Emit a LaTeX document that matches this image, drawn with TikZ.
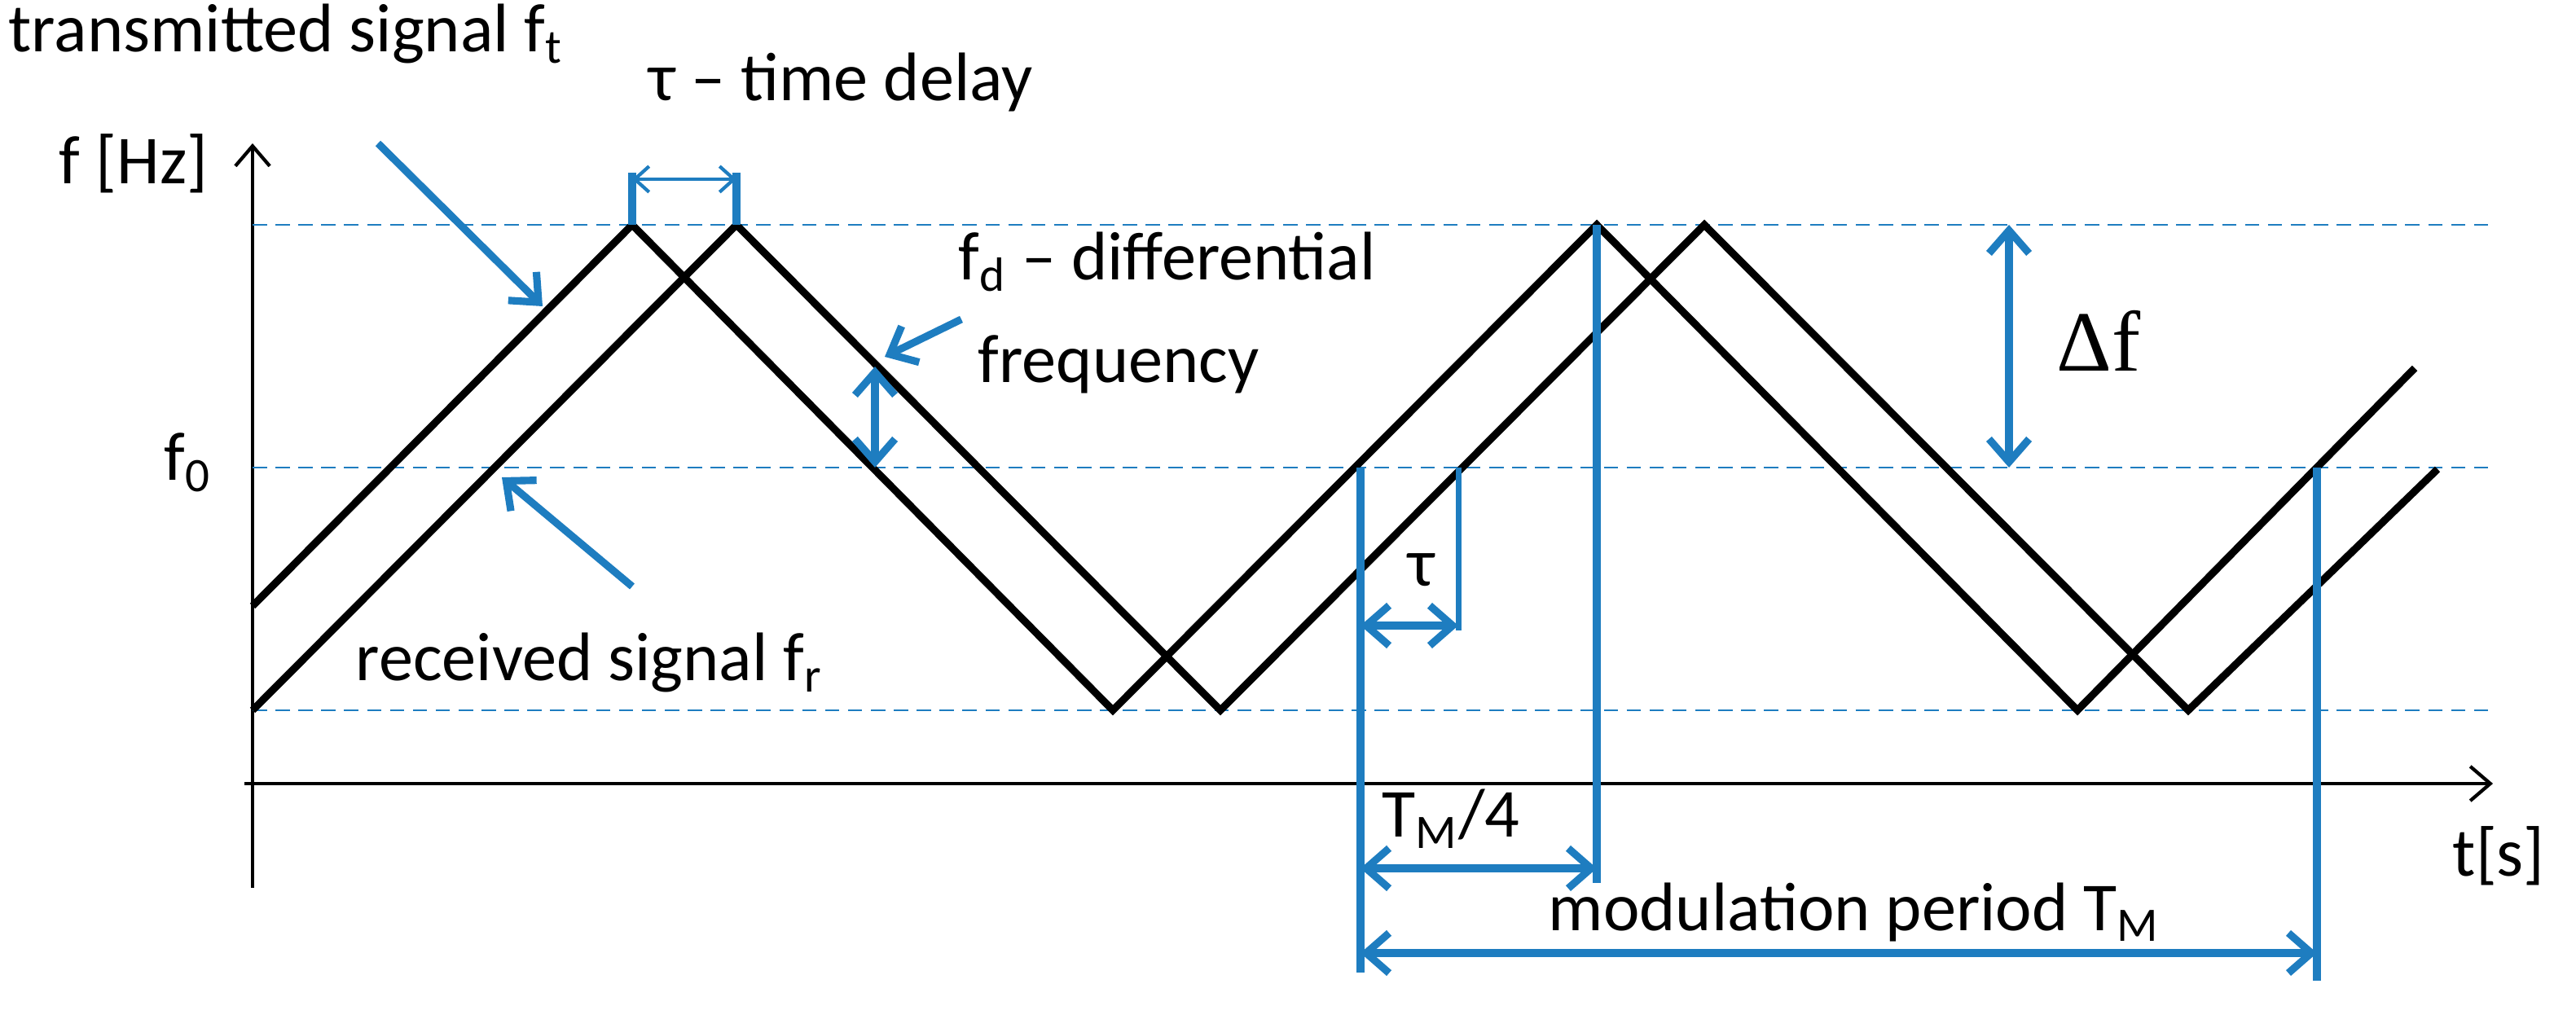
\documentclass[tikz,border=0pt]{standalone}
\usepackage{fontspec}
\setmainfont{Carlito}
\usetikzlibrary{arrows.meta}
\definecolor{mblue}{RGB}{30,125,192}
\tikzset{
  sig/.style={line width=2.6pt,black},
  guide/.style={mblue,line width=0.8pt,dash pattern=on 5pt off 3pt},
  tick/.style={mblue,line width=3pt},
  dim/.style={mblue,line width=2.6pt,{Straight Barb[length=8pt,width=14pt]}-{Straight Barb[length=8pt,width=14pt]}},
  pointer/.style={mblue,line width=2.6pt,-{Straight Barb[length=8pt,width=14pt]}},
  lbl/.style={font=\fontsize{24}{28}\selectfont,inner sep=0pt}
}
\begin{document}
\begin{tikzpicture}[x=0.02cm,y=-0.02cm]
  \useasboundingbox (0,0) rectangle (1581,625.5);
  % axes
  \draw[line width=1.2pt,-{Straight Barb[length=7pt,width=12pt]}] (155,545) -- (155,88);
  \draw[line width=1.2pt,-{Straight Barb[length=7pt,width=12pt]}] (150,481) -- (1530,481);
  % guide lines
  \draw[guide] (155,138) -- (1530,138);
  \draw[guide] (155,287) -- (1530,287);
  \draw[guide] (155,436) -- (1530,436);
  % signals
  \draw[sig] (155,372) -- (388,138) -- (683,436) -- (980,138) -- (1275,436) -- (1482,226);
  \draw[sig] (155,436) -- (452,138) -- (749,436) -- (1046,138) -- (1343,436) -- (1496,288);
  % time delay
  \coordinate (d1) at (388,138);
  \coordinate (d2) at (452,138);
  \draw[tick] (388,106) -- (d1);
  \draw[tick] (452,106) -- (d2);
  \draw[mblue,line width=1.2pt,{Straight Barb[length=5pt,width=9pt]}-{Straight Barb[length=5pt,width=9pt]}] (388,110) -- (452,110);
  \node[lbl,anchor=base west] (tdl) at (398,62) {τ – time delay};
  % labels
  \node[lbl,anchor=base west] (tx) at (5,32) {transmitted signal f\textsubscript{t}};
  \node[lbl,anchor=base west] (rx) at (218,418) {received signal f\textsubscript{r}};
  \node[lbl,anchor=base east] (fhz) at (128,113) {f [Hz]};
  \node[lbl,anchor=base east] (f0) at (130,295) {f\textsubscript{0}};
  \node[lbl,anchor=base west] (ts) at (1505,538) {t[s]};
  \coordinate (txa) at (333,188);
  \coordinate (rxa) at (308,293);
  \draw[pointer] (232,88) -- (txa);
  \draw[pointer] (388,360) -- (rxa);
  % differential frequency
  \node[lbl,anchor=base west] (fd) at (588,172) {f\textsubscript{d} – differential};
  \node[lbl,anchor=base west] (fq) at (600,235) {frequency};
  \coordinate (fda) at (543,219);
  \draw[pointer] (590,196) -- (fda);
  \draw[dim] (537,225) -- (537,287);
  % delta f
  \draw[dim] (1233,138) -- (1233,287);
  \node[font=\fontsize{30}{34}\selectfont,inner sep=0pt,anchor=base west] (df) at (1262,228) {\fontspec{Liberation Serif}Δf};
  % periods
  \draw[tick] (835,287) -- (835,597);
  \draw[tick] (980,138) -- (980,542);
  \draw[tick] (1422,287) -- (1422,602);
  \draw[mblue,line width=2pt] (895,287) -- (895,387);
  \draw[dim] (835,384) -- (895,384);
  \node[lbl,anchor=base west] (tau) at (864,360) {τ};
  \draw[dim] (835,533) -- (980,533);
  \node[lbl,anchor=base west] (tm4) at (848,514) {T\textsubscript{M}/4};
  \draw[dim] (835,585) -- (1422,585);
  \node[lbl,anchor=base west] (mp) at (950,571) {modulation period T\textsubscript{M}};
\end{tikzpicture}
\end{document}
